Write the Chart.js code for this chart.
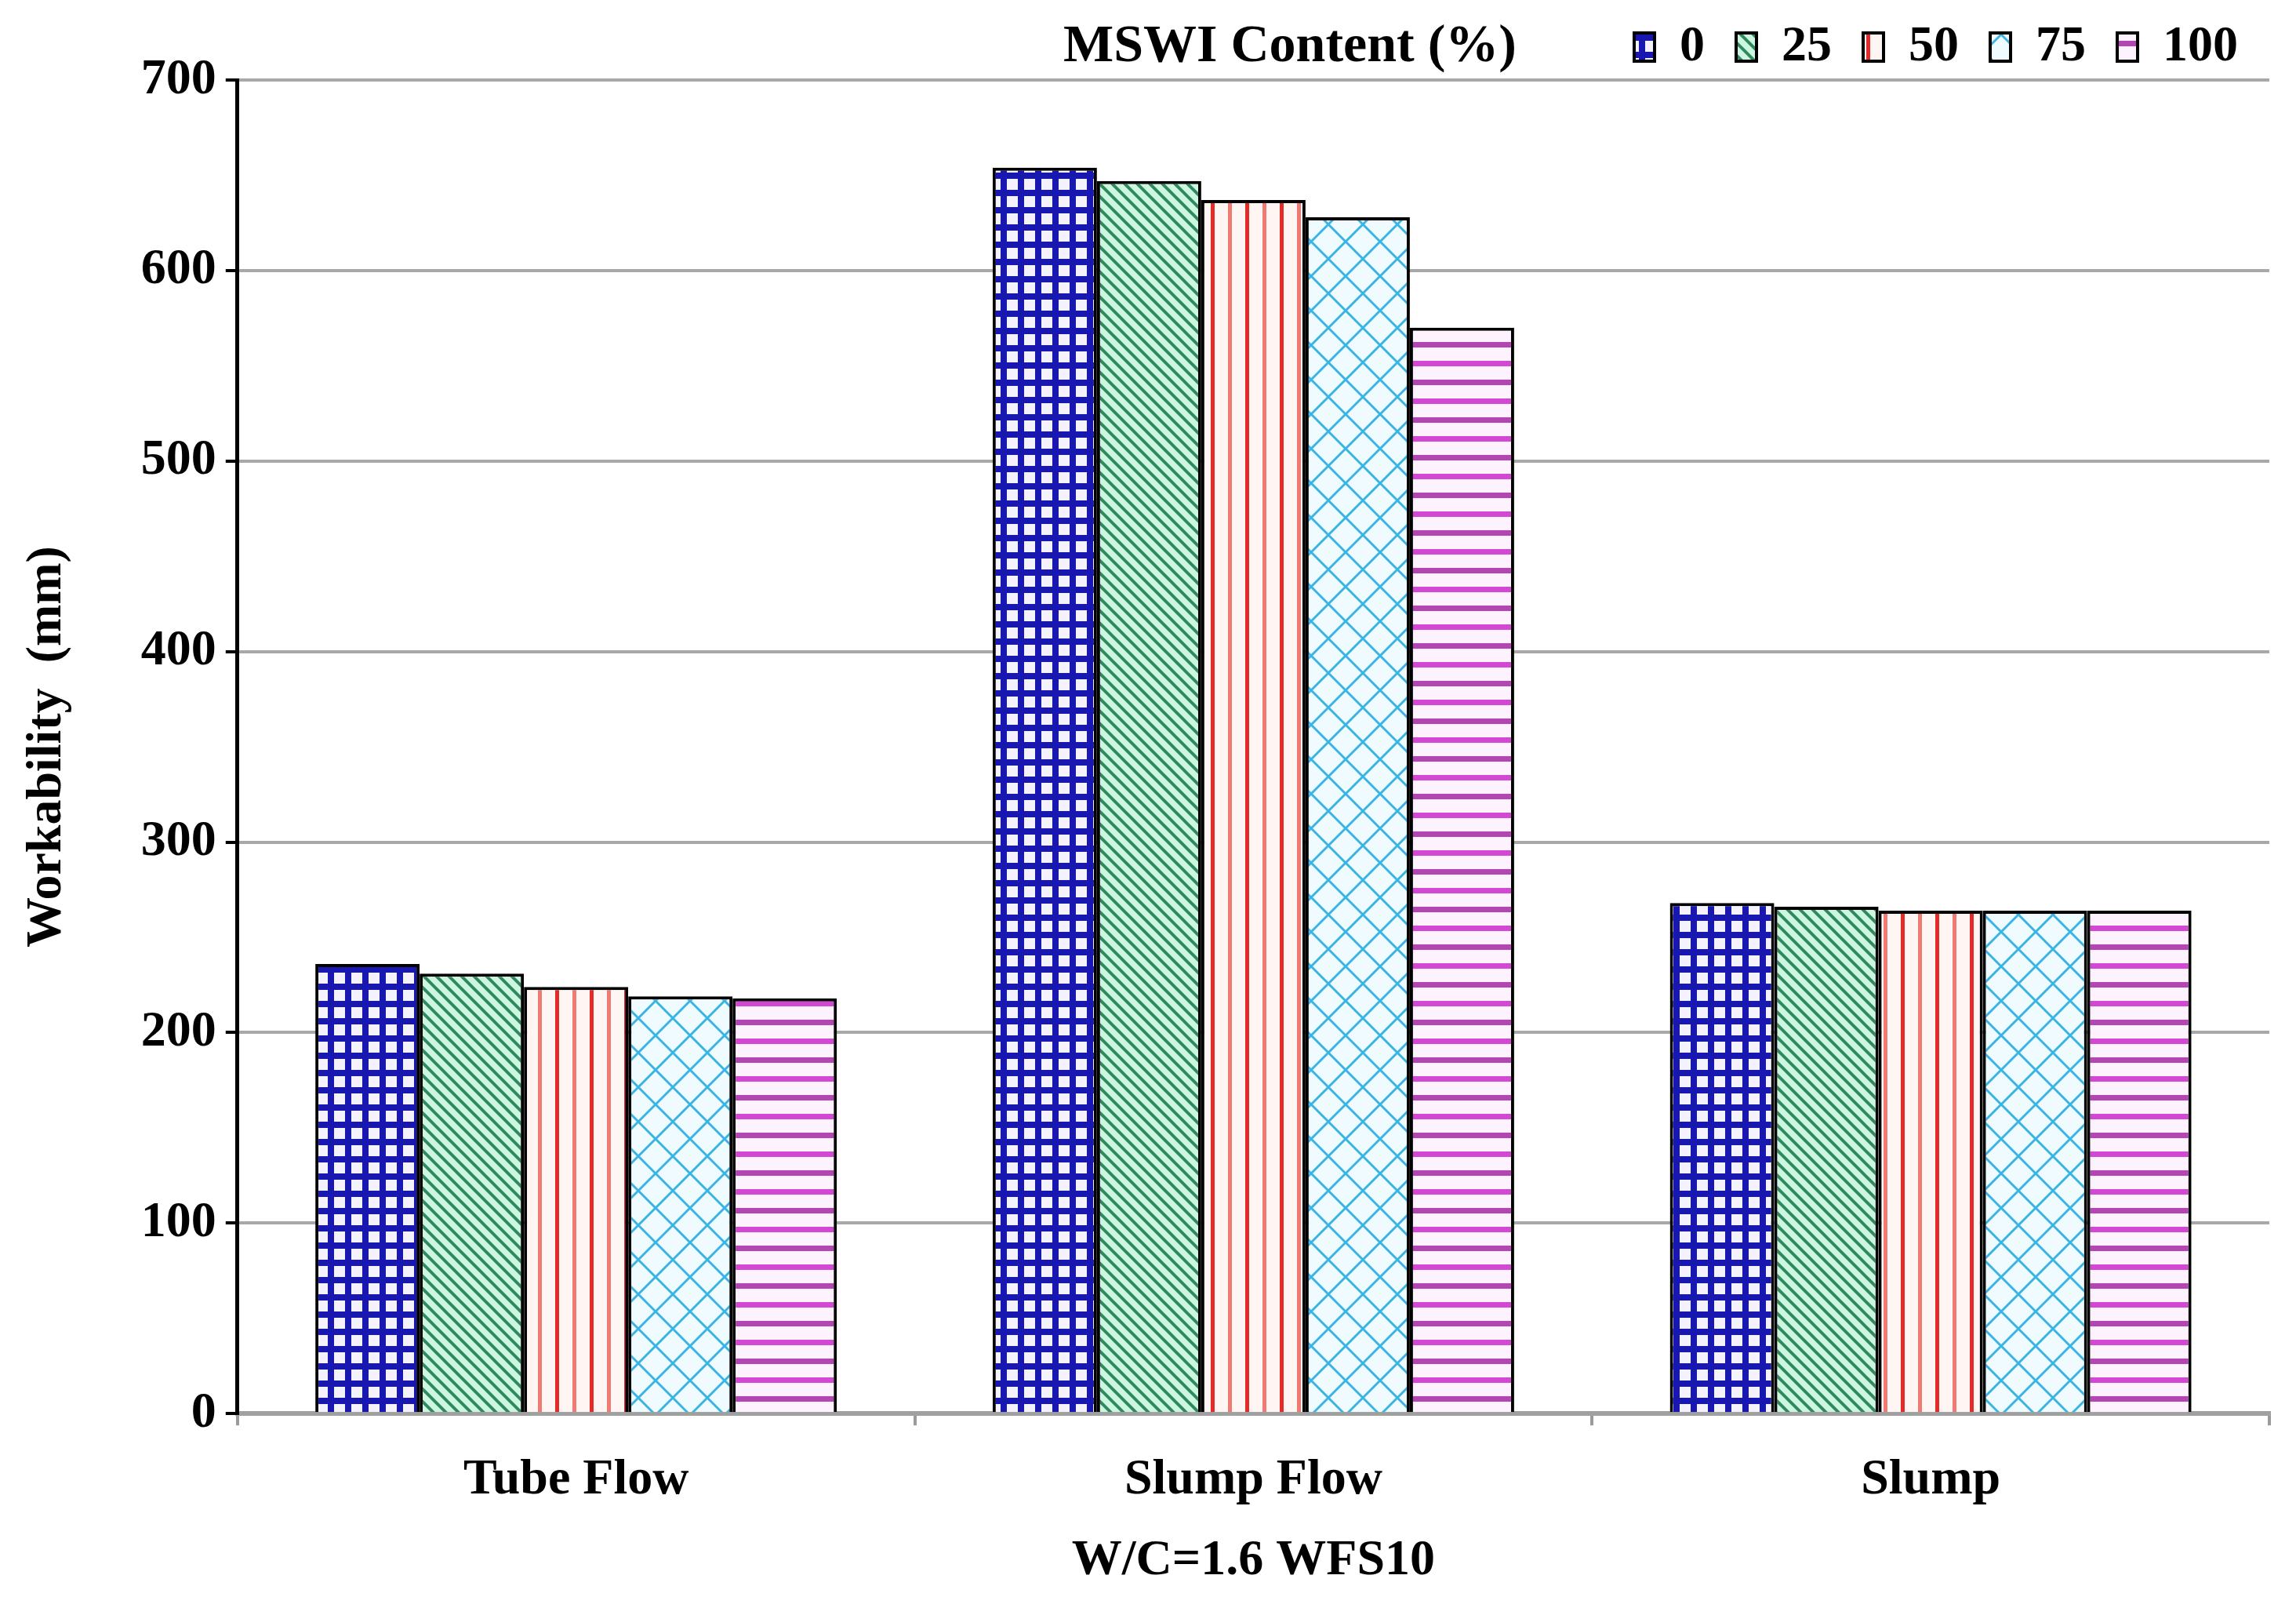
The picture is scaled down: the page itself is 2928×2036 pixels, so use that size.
<!DOCTYPE html>
<html>
<head>
<meta charset="utf-8">
<script src="https://cdn.jsdelivr.net/npm/chart.js@4"></script>
<style>
body{ margin:0; background:#fff; }
</style>
</head>
<body>
<canvas id="workChart" width="2928" height="2036"></canvas>
<script>
const categories = ["Tube Flow", "Slump Flow", "Slump"];
const contentLabels = ["0", "25", "50", "75", "100"];
const values0 = [236, 654, 268];
const values25 = [231, 647, 266];
const values50 = [224, 637, 264];
const values75 = [219, 628, 264];
const values100 = [218, 570, 264];
const yTicks = [0, 100, 200, 300, 400, 500, 600, 700];

const FONT = "'Liberation Serif', 'Times New Roman', serif";

function makeTile(w, h, draw){
    const c = document.createElement("canvas");
    c.width = w;
    c.height = h;
    const g = c.getContext("2d");
    draw(g, w, h);
    return document.createElement("canvas").getContext("2d").createPattern(c, "repeat");
}

// blue grid
const gridPattern = makeTile(22, 22, (g, w, h) => {
    g.fillStyle = "#f4f2ff";
    g.fillRect(0, 0, w, h);
    g.fillStyle = "#1818b0";
    g.fillRect(0, 0, 8, h);
    g.fillRect(0, 0, w, 8);
});
// green diagonal
const diagPattern = makeTile(16, 16, (g, w, h) => {
    g.fillStyle = "#cdf6e2";
    g.fillRect(0, 0, w, h);
    g.strokeStyle = "#2f8a5c";
    g.lineWidth = 4;
    g.beginPath();
    g.moveTo(-4, -4); g.lineTo(w + 4, h + 4);
    g.moveTo(-4, h - 4); g.lineTo(4, h + 4);
    g.moveTo(w - 4, -4); g.lineTo(w + 4, 4);
    g.stroke();
});
// red vertical
const vertPattern = makeTile(44, 10, (g, w, h) => {
    g.fillStyle = "#fff6f4";
    g.fillRect(0, 0, w, h);
    g.fillStyle = "#e42a28";
    g.fillRect(4, 0, 5, h);
    g.fillStyle = "#ee7a72";
    g.fillRect(26, 0, 5, h);
});
// cyan diamonds
const diamondPattern = makeTile(44, 44, (g, w, h) => {
    g.fillStyle = "#effbff";
    g.fillRect(0, 0, w, h);
    g.strokeStyle = "#3ab4e2";
    g.lineWidth = 3;
    g.beginPath();
    g.moveTo(0, 0); g.lineTo(w, h);
    g.moveTo(w, 0); g.lineTo(0, h);
    g.stroke();
});
// magenta horizontal
const horzPattern = makeTile(10, 48, (g, w, h) => {
    g.fillStyle = "#fff2ff";
    g.fillRect(0, 0, w, h);
    g.fillStyle = "#b445b4";
    g.fillRect(0, 4, w, 7);
    g.fillStyle = "#d348d3";
    g.fillRect(0, 28, w, 7);
});

const fills = [gridPattern, diagPattern, vertPattern, diamondPattern, horzPattern];
const seriesValues = [values0, values25, values50, values75, values100];

const legendHeading = {
    id: "legendHeading",
    afterDraw(chart){
        const lg = chart.legend;
        if(!lg || !lg.legendHitBoxes.length){
            return;
        }
        const first = lg.legendHitBoxes[0];
        const ctx = chart.ctx;
        ctx.save();
        ctx.font = "bold 68px " + FONT;
        ctx.fillStyle = "#000";
        ctx.textAlign = "right";
        ctx.textBaseline = "middle";
        ctx.fillText("MSWI Content (%)", first.left - 150, first.top + first.height / 2);
        ctx.restore();
    }
};

const ctx = document.getElementById("workChart");
new Chart(ctx, {
    type: "bar",
    data: {
        labels: categories,
        datasets: contentLabels.map((lab, i) => ({
            label: lab,
            data: seriesValues[i],
            backgroundColor: fills[i],
            borderColor: "#000",
            borderWidth: 4,
            categoryPercentage: 0.77,
            barPercentage: 1.0
        }))
    },
    options: {
        responsive: false,
        devicePixelRatio: 1,
        animation: false,
        layout: {
            padding: {top: -12, left: 22, right: 34, bottom: 14}
        },
        plugins: {
            tooltip: {enabled: false},
            legend: {
                position: "top",
                align: "end",
                labels: {
                    color: "#000",
                    font: {family: FONT, size: 64, weight: "bold", lineHeight: 1.0},
                    boxWidth: 26,
                    boxHeight: 36,
                    padding: 40
                }
            }
        },
        scales: {
            x: {
                grid: {
                    display: true,
                    drawOnChartArea: false,
                    offset: true,
                    color: "#9a9a9a",
                    lineWidth: 4,
                    tickLength: 15
                },
                border: {color: "#a0a0a0", width: 6},
                ticks: {
                    color: "#000",
                    padding: 32,
                    font: {family: FONT, size: 64, weight: "bold"}
                },
                title: {
                    display: true,
                    text: "W/C=1.6 WFS10",
                    color: "#000",
                    padding: {top: 0, bottom: 0},
                    font: {family: FONT, size: 64, weight: "bold", lineHeight: 1.0}
                }
            },
            y: {
                min: 0,
                max: 700,
                afterBuildTicks(scale){
                    scale.ticks = yTicks.map(v => ({value: v}));
                },
                grid: {
                    color: "#a8a8a8",
                    lineWidth: 4,
                    tickColor: "#000",
                    tickLength: 15
                },
                border: {color: "#000", width: 5},
                ticks: {
                    color: "#000",
                    padding: 12,
                    font: {family: FONT, size: 64, weight: "bold"}
                },
                title: {
                    display: true,
                    text: "Workability  (mm)",
                    color: "#000",
                    padding: {top: 0, bottom: 69},
                    font: {family: FONT, size: 64, weight: "bold"}
                }
            }
        }
    },
    plugins: [legendHeading]
});
</script>
</body>
</html>
